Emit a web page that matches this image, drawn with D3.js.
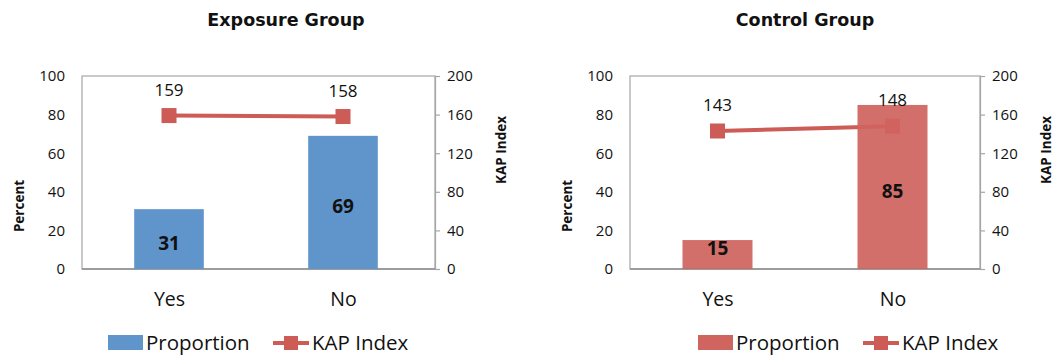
<!DOCTYPE html>
<html>
<head>
<meta charset="utf-8">
<script src="https://cdn.jsdelivr.net/npm/d3@7"></script>
<style>
  body { margin: 0; background: #fff; }
  svg { display: block; }
  text { font-family: "Open Sans", "DejaVu Sans", sans-serif; fill: #111; }
</style>
</head>
<body>
<svg id="chart" width="1062" height="358"></svg>
<script>
// Answer categories shared by both panels
const categories = ["Yes", "No"];

// Exposure group
const exposureProportion = [31, 69];
const exposureKap = [159, 158];

// Control group
const controlProportion = [15, 85];
const controlKap = [143, 148];

// Axis ticks
const percentTicks = [0, 20, 40, 60, 80, 100];
const kapTicks = [0, 40, 80, 120, 160, 200];

const panels = [
  { title: "Exposure Group", proportion: exposureProportion, kap: exposureKap,
    barColor: "#6095cb", x0: 82, x1: 435, inset: 5, titleX: 286,
    legendX: 108, barOpacity: 1 },
  { title: "Control Group", proportion: controlProportion, kap: controlKap,
    barColor: "#d0645f", x0: 630, x1: 980, inset: 0, titleX: 805,
    legendX: 698, barOpacity: 0.93 }
];

const lineColor = "#cd5b56";
const axisColor = "#a6a6a6";
const plotTop = 76, plotBottom = 269;

const svg = d3.select("#chart");

panels.forEach(p => {
  const g = svg.append("g");

  const x = d3.scaleBand().domain(categories).range([p.x0, p.x1 - p.inset]).paddingInner(0.6).paddingOuter(0.3);
  const xc = d3.scalePoint().domain(categories).range([p.x0, p.x1 - p.inset]).padding(0.5);
  const yL = d3.scaleLinear().domain([0, 100]).range([plotBottom, plotTop]);
  const yR = d3.scaleLinear().domain([0, 200]).range([plotBottom, plotTop]);

  // Title
  g.append("text").attr("x", p.titleX).attr("y", 26)
    .attr("text-anchor", "middle").style("font-weight", "bold").style("font-size", "17.5px")
    .style("font-family", "'DejaVu Sans', sans-serif")
    .text(p.title);

  // Plot frame
  g.append("rect").attr("x", p.x0).attr("y", plotTop).attr("width", p.x1 - p.x0).attr("height", plotBottom - plotTop)
    .attr("fill", "none").attr("stroke", axisColor).attr("stroke-width", 1.2);

  // Left axis labels
  const left = d3.axisLeft(yL).tickValues(percentTicks).tickSize(0).tickPadding(17);
  const la = g.append("g").attr("transform", `translate(${p.x0},0)`).call(left);
  la.select(".domain").remove();
  la.selectAll("text").style("font-size", "15px").style("font-family", "'Open Sans', sans-serif").attr("fill", "#111");

  // Right axis with outward ticks
  const right = d3.axisRight(yR).tickValues(kapTicks).tickSize(5).tickPadding(7);
  const ra = g.append("g").attr("transform", `translate(${p.x1},0)`).call(right);
  ra.select(".domain").attr("stroke", axisColor).attr("stroke-width", 1.2);
  ra.selectAll(".tick line").attr("stroke", axisColor).attr("stroke-width", 1.2);
  ra.selectAll("text").style("font-size", "15px").style("font-family", "'Open Sans', sans-serif").attr("fill", "#111");

  // Bottom category labels
  const bottomAxis = d3.axisBottom(xc).tickSize(0).tickPadding(23);
  const ba = g.append("g").attr("transform", `translate(0,${plotBottom})`).call(bottomAxis);
  ba.select(".domain").attr("stroke", "#8c8c8c").attr("stroke-width", 1.5)
    .attr("d", `M${p.x0},0H${p.x1}`);
  ba.selectAll("text").style("font-size", "19.5px").style("font-family", "'Open Sans', sans-serif").attr("fill", "#111");

  // Axis titles
  g.append("text").attr("transform", `translate(${p.x0 - 63},206) rotate(-90)`)
    .attr("text-anchor", "middle").attr("dy", "0.35em")
    .style("font-weight", "bold").style("font-size", "13.5px")
    .text("Percent");
  g.append("text").attr("transform", `translate(${p.x1 + 66},150) rotate(-90)`)
    .attr("text-anchor", "middle").attr("dy", "0.35em")
    .style("font-weight", "bold").style("font-size", "13.5px")
    .text("KAP Index");

  // KAP index line and markers
  const line = d3.line().x((d, i) => xc(categories[i])).y(d => yR(d));
  g.append("path").datum(p.kap).attr("d", line)
    .attr("fill", "none").attr("stroke", lineColor).attr("stroke-width", 4);
  g.selectAll(".marker").data(p.kap).enter().append("rect")
    .attr("x", (d, i) => xc(categories[i]) - 7.5).attr("y", d => yR(d) - 7.5)
    .attr("width", 15).attr("height", 15).attr("fill", lineColor);

  // Proportion bars
  g.selectAll(".bar").data(p.proportion).enter().append("rect")
    .attr("x", (d, i) => x(categories[i]))
    .attr("y", d => yL(d))
    .attr("width", x.bandwidth())
    .attr("height", d => plotBottom - yL(d))
    .attr("fill", p.barColor).attr("opacity", p.barOpacity);

  // Bar value labels, centred in the bar but kept clear of the baseline
  g.selectAll(".barLabel").data(p.proportion).enter().append("text")
    .attr("x", (d, i) => xc(categories[i]))
    .attr("y", d => Math.min((yL(d) + plotBottom) / 2 + 4, plotBottom - 21))
    .attr("text-anchor", "middle").attr("dy", "0.35em")
    .style("font-weight", "bold").style("font-size", "19px")
    .text(d => d);

  // KAP value labels
  g.selectAll(".kapLabel").data(p.kap).enter().append("text")
    .attr("x", (d, i) => xc(categories[i]))
    .attr("y", d => yR(d) - 20)
    .attr("text-anchor", "middle")
    .style("font-size", "17px")
    .text(d => d);

  // Legend
  const lx = p.legendX, ly = 343;
  g.append("rect").attr("x", lx).attr("y", ly - 8).attr("width", 35).attr("height", 15).attr("fill", p.barColor);
  g.append("text").attr("x", lx + 38).attr("y", ly).attr("dy", "0.35em")
    .style("font-size", "20.5px").text("Proportion");
  const kx = lx + 165;
  g.append("line").attr("x1", kx).attr("x2", kx + 36).attr("y1", ly).attr("y2", ly)
    .attr("stroke", lineColor).attr("stroke-width", 4);
  g.append("rect").attr("x", kx + 11).attr("y", ly - 7).attr("width", 14).attr("height", 14).attr("fill", lineColor);
  g.append("text").attr("x", kx + 39).attr("y", ly).attr("dy", "0.35em")
    .style("font-size", "20.5px").text("KAP Index");
});
</script>
</body>
</html>
